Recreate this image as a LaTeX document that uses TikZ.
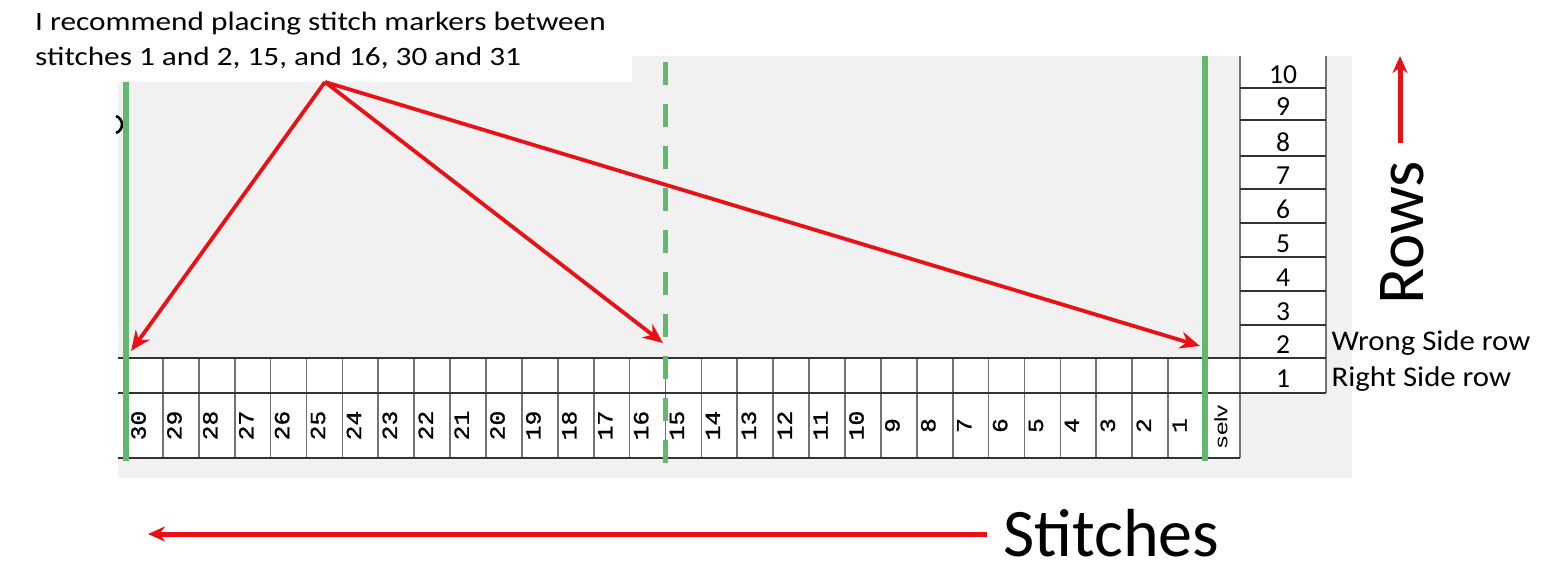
\documentclass[tikz,border=0pt]{standalone}
\usepackage{fontspec}
\setmainfont{Carlito}
\newfontfamily\topfont[FakeStretch=1.18]{Carlito}
\newfontfamily\sidefont[FakeStretch=1.08]{Carlito}
\newfontfamily\numfont[FakeStretch=1.15,FakeBold=1.2]{Liberation Mono}
\newfontfamily\selvfont[FakeStretch=1.35]{Liberation Sans}
\usetikzlibrary{arrows.meta}
\definecolor{bggray}{RGB}{241,241,241}
\definecolor{mkgreen}{RGB}{98,184,108}
\definecolor{arrred}{RGB}{232,18,22}
\begin{document}
\begin{tikzpicture}[x=1pt,y=-1pt,
  gridh/.style={line width=1.4pt, draw=black!80},
  gridv/.style={line width=1.7pt, draw=black!55},
  marker/.style={line width=5.5pt, draw=mkgreen},
  pointer/.style={line width=3.8pt, draw=arrred, -{Stealth[length=20pt,width=17pt]}},
  bigarrow/.style={line width=5pt, draw=arrred, -{Stealth[length=17pt,width=15pt]}},
  stnum/.style={rotate=90, inner sep=0, font=\numfont\fontsize{21.5}{21.5}\selectfont},
  rownum/.style={anchor=base, inner sep=0, font=\fontsize{27.5}{27.5}\selectfont},
  sidelabel/.style={anchor=base west, inner sep=0, font=\sidefont\fontsize{28.5}{28.5}\selectfont},
  notetext/.style={anchor=base west, inner sep=0, font=\topfont\fontsize{26.5}{26.5}\selectfont}
]
\useasboundingbox (0,0) rectangle (1568,581);
\fill[white] (0,0) rectangle (1568,581);
\fill[bggray] (118,56) rectangle (1352,478);
\fill[white] (0,0) rectangle (632,82);
\fill[white] (118,358) rectangle (1240,458);
\fill[white] (1241,56) rectangle (1325,393);

% stitch grid
\foreach \i in {1,...,29} {
  \draw[gridv] ({127+\i*35.9},358) -- ({127+\i*35.9},458);
}
\draw[gridv] (1240,56) -- (1240,458);
\draw[gridv] (1326,56) -- (1326,393);
\draw[gridh] (118,358) -- (1326,358);
\draw[gridh] (118,393) -- (1326,393);
\draw[gridh] (118,458) -- (1240,458);
\foreach \y in {88,120,156,189,223,257,291,325} {
  \draw[gridh] (1240,\y) -- (1326,\y);
}

% stitch numbers
\foreach \i in {0,...,29} {
  \pgfmathtruncatemacro\n{30-\i}
  \node[stnum] (st\n) at ({127+\i*35.9+11.5},425.5) {\n};
}
\node[rotate=90, inner sep=0, font=\selvfont\fontsize{18}{18}\selectfont] (selv) at (1221,426.5) {selv};

% row numbers
\node[rownum] (r10) at (1283,83) {10};
\node[rownum] (r9) at (1283,115) {9};
\node[rownum] (r8) at (1283,151) {8};
\node[rownum] (r7) at (1283,184) {7};
\node[rownum] (r6) at (1283,218) {6};
\node[rownum] (r5) at (1283,252) {5};
\node[rownum] (r4) at (1283,286) {4};
\node[rownum] (r3) at (1283,320) {3};
\node[rownum] (r2) at (1283,353) {2};
\node[rownum] (r1) at (1283,387.5) {1};

\node[sidelabel] (ws) at (1331.5,350) {Wrong Side row};
\node[sidelabel] (rs) at (1331.5,386.5) {Right Side row};

% small black mark
\draw[line width=2.6pt] (116,116) .. controls (124,119) and (124,130) .. (116,133);

% stitch markers
\draw[marker] (126,82) -- (126,461);
\draw[marker, dash pattern=on 23pt off 19pt] (665.5,62) -- (665.5,463);
\draw[marker] (1205,56) -- (1205,461);

% note
\node[notetext] (note1) at (35,30) {I recommend placing stitch markers between};
\node[notetext] (note2) at (35,65.5) {stitches 1 and 2, 15, and 16, 30 and 31};

\coordinate (apex) at (325,82);
\coordinate (m30) at (131,351);
\coordinate (m15) at (663,343);
\coordinate (m1) at (1200,346);
\draw[pointer] (apex) -- (m30);
\draw[pointer] (apex) -- (m15);
\draw[pointer] (apex) -- (m1);

% Rows
\node[rotate=90, anchor=base west, inner sep=0, font=\fontsize{67}{67}\selectfont] (rows) at (1423,305) {Rows};
\coordinate (rowsTail) at (1400,143);
\coordinate (rowsTip) at (1400,56);
\draw[bigarrow] (rowsTail) -- (rowsTip);

% Stitches
\node[anchor=base west, inner sep=0, font=\fontsize{68}{68}\selectfont] (stitches) at (1003,556.7) {Stitches};
\coordinate (sTail) at (987,534);
\coordinate (sTip) at (148,534);
\draw[bigarrow] (sTail) -- (sTip);
\end{tikzpicture}
\end{document}
